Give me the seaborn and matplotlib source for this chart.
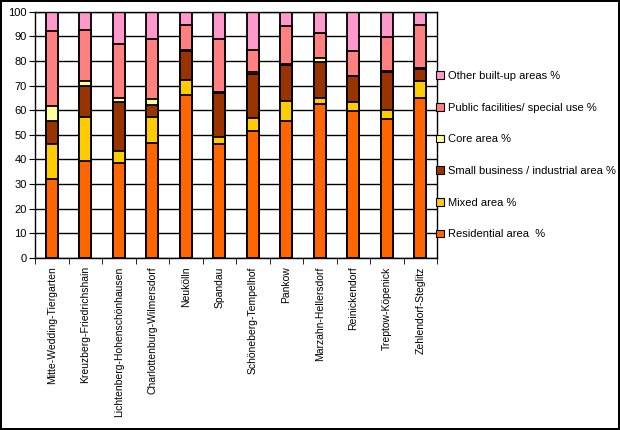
import matplotlib
matplotlib.use('Agg')
import matplotlib.pyplot as plt
import seaborn as sns
import numpy as np
import pandas as pd
from matplotlib.patches import Patch
from matplotlib.ticker import FixedLocator

# Flaechennutzung Berliner Bezirke (%)
districts = ['Mitte-Wedding-Tiergarten', 'Kreuzberg-Friedrichshain',
             'Lichtenberg-Hohenschönhausen', 'Charlottenburg-Wilmersdorf',
             'Neukölln', 'Spandau', 'Schöneberg-Tempelhof', 'Pankow',
             'Marzahn-Hellersdorf', 'Reinickendorf', 'Treptow-Köpenick',
             'Zehlendorf-Steglitz']

residential = [32.0, 39.3, 38.7, 46.7, 66.3, 46.4, 51.4, 55.5, 62.6, 59.5, 56.3, 65.0]
mixed       = [14.4, 17.9, 4.6, 10.5, 6.0, 2.7, 5.6, 8.1, 2.4, 3.7, 3.9, 6.7]
small_biz   = [9.2, 12.8, 20.0, 5.0, 11.7, 17.8, 17.6, 14.9, 14.5, 10.5, 15.2, 5.1]
core        = [5.9, 2.0, 1.7, 2.2, 0.3, 0.3, 1.0, 0.2, 1.7, 0.3, 0.3, 0.2]
public      = [30.8, 20.7, 21.9, 24.4, 10.2, 21.5, 9.0, 15.3, 10.2, 10.2, 13.9, 17.6]
other       = [7.7, 7.3, 13.1, 11.2, 5.5, 11.3, 15.4, 6.0, 8.6, 15.8, 10.4, 5.4]

series = ['Residential area  %', 'Mixed area %', 'Small business / industrial area %',
          'Core area %', 'Public facilities/ special use %', 'Other built-up areas %']
colors = ['#FF6600', '#FFCC00', '#993300', '#FFFF99', '#FF8080', '#FF99CC']
values = [residential, mixed, small_biz, core, public, other]

df = pd.DataFrame(dict(zip(series, values)), index=districts)
cum = df.cumsum(axis=1)

plt.rcParams['font.family'] = ['Liberation Sans', 'DejaVu Sans']
fig = plt.figure(figsize=(6.2, 4.3), dpi=100)
fig.patch.set_edgecolor('black')
fig.patch.set_linewidth(1.5)
ax = fig.add_axes([0.0565, 0.40, 0.6485, 0.573])

# gestapelt: von oben nach unten zeichnen
for name, col in reversed(list(zip(series, colors))):
    sns.barplot(x=districts, y=cum[name].values, color=col, width=0.35,
                edgecolor='black', linewidth=1.3, saturation=1, ax=ax)

ax.set_xlim(-0.5, len(districts) - 0.5)
ax.set_ylim(0, 100)
ax.set_yticks(np.arange(0, 101, 10))
ax.yaxis.grid(True, color='black', linewidth=1)
ax.set_axisbelow(True)
ax.tick_params(axis='y', labelsize=8, length=4, color='black', pad=2)
ax.tick_params(axis='x', which='major', length=0, labelsize=7.5, labelrotation=90, pad=6)
ax.xaxis.set_minor_locator(FixedLocator(np.arange(-0.5, len(districts), 1)))
ax.tick_params(axis='x', which='minor', length=4, color='black')
for s in ax.spines.values():
    s.set_color('black')
    s.set_linewidth(1)
ax.set_xlabel('')
ax.set_ylabel('')

handles = [Patch(facecolor=c, edgecolor='black', linewidth=0.8, label=l)
           for l, c in zip(series, colors)][::-1]
fig.legend(handles=handles, loc='upper left', bbox_to_anchor=(0.696, 0.845),
           frameon=False, fontsize=8, handlelength=0.7, handleheight=0.7,
           handletextpad=0.35, labelspacing=1.95, borderaxespad=0)

fig.savefig('out.png', dpi=100, edgecolor=fig.get_edgecolor())
